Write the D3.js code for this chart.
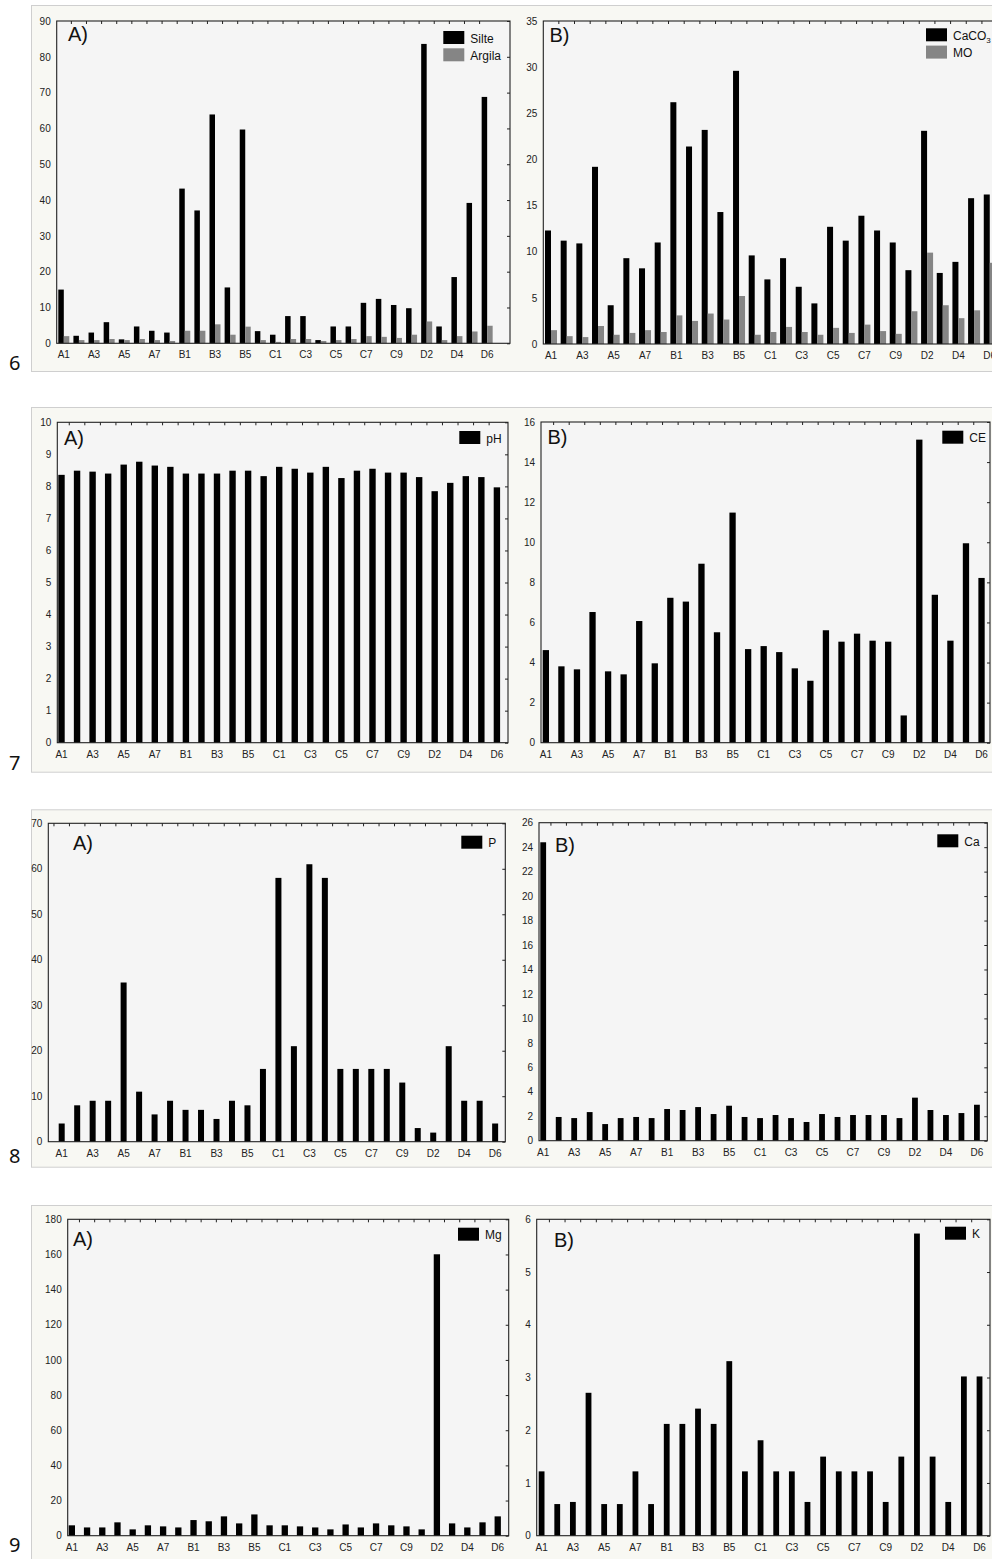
<!DOCTYPE html>
<html><head><meta charset="utf-8">
<script src="https://cdn.jsdelivr.net/npm/d3@7"></script>
<style>body{margin:0;background:#fff;} svg{display:block;}</style>
</head><body>
<svg id="chart" width="992" height="1559"></svg>
<script>
// ---------------- DATA ----------------
const categories = ["A1","A2","A3","A4","A5","A6","A7","A8",
  "B1","B2","B3","B4","B5","B6",
  "C1","C2","C3","C4","C5","C6","C7","C8","C9",
  "D1","D2","D3","D4","D5","D6"];
const xTickLabels = ["A1","A3","A5","A7","B1","B3","B5","C1","C3","C5","C7","C9","D2","D4","D6"];

const silte  = [15.0, 2.1, 3.0, 5.9, 1.1, 4.7, 3.5, 3.0, 43.2, 37.1, 63.9, 15.6, 59.7, 3.4, 2.4, 7.6, 7.6, 0.9, 4.7, 4.7, 11.3, 12.4, 10.7, 9.8, 83.6, 4.7, 18.5, 39.2, 68.8];
const argila = [2.0, 0.9, 0.9, 1.2, 0.9, 1.2, 0.9, 0.65, 3.5, 3.5, 5.3, 2.4, 4.65, 0.9, 0.4, 1.2, 1.2, 0.65, 0.9, 1.2, 2.0, 1.8, 1.5, 2.4, 6.1, 0.9, 2.0, 3.3, 4.9];
const caco3  = [12.3, 11.2, 10.9, 19.2, 4.2, 9.3, 8.2, 11.0, 26.2, 21.4, 23.2, 14.3, 29.6, 9.6, 7.0, 9.3, 6.2, 4.4, 12.7, 11.2, 13.9, 12.3, 11.0, 8.0, 23.1, 7.7, 8.9, 15.8, 16.2];
const mo     = [1.5, 0.85, 0.75, 1.95, 1.0, 1.2, 1.5, 1.3, 3.1, 2.5, 3.3, 2.65, 5.2, 1.0, 1.3, 1.85, 1.3, 1.0, 1.75, 1.2, 2.1, 1.4, 1.1, 3.55, 9.9, 4.2, 2.8, 3.65, 8.8];
const ph     = [8.36, 8.49, 8.46, 8.40, 8.68, 8.77, 8.65, 8.61, 8.40, 8.40, 8.40, 8.49, 8.49, 8.32, 8.61, 8.55, 8.43, 8.61, 8.26, 8.49, 8.55, 8.43, 8.43, 8.29, 7.85, 8.11, 8.32, 8.29, 7.97];
const ce     = [4.62, 3.81, 3.66, 6.52, 3.56, 3.41, 6.07, 3.96, 7.23, 7.04, 8.93, 5.51, 11.48, 4.67, 4.82, 4.52, 3.71, 3.09, 5.61, 5.04, 5.44, 5.09, 5.04, 1.36, 15.12, 7.38, 5.09, 9.95, 8.22];
const pVals  = [4, 8, 9, 9, 35, 11, 6, 9, 7, 7, 5, 9, 8, 16, 58, 21, 61, 58, 16, 16, 16, 16, 13, 3, 2, 21, 9, 9, 4];
const caVals = [24.4, 1.94, 1.85, 2.34, 1.36, 1.85, 1.94, 1.85, 2.59, 2.51, 2.75, 2.18, 2.86, 1.94, 1.85, 2.10, 1.85, 1.53, 2.18, 1.94, 2.10, 2.10, 2.10, 1.85, 3.52, 2.51, 2.10, 2.26, 2.94];
const mgVals = [5.9, 4.7, 4.7, 7.6, 3.6, 5.9, 5.3, 4.7, 8.9, 8.2, 11.0, 7.0, 12.1, 5.9, 5.9, 5.3, 4.7, 3.6, 6.4, 4.7, 7.0, 5.9, 5.3, 3.6, 160.1, 7.0, 4.7, 7.6, 11.0];
const kVals  = [1.22, 0.60, 0.64, 2.71, 0.60, 0.60, 1.22, 0.60, 2.12, 2.12, 2.41, 2.12, 3.31, 1.22, 1.81, 1.22, 1.22, 0.64, 1.50, 1.22, 1.22, 1.22, 0.64, 1.50, 5.73, 1.50, 0.64, 3.02, 3.02];

const ticks6A = [0,10,20,30,40,50,60,70,80,90];
const ticks6B = [0,5,10,15,20,25,30,35];
const ticks7A = [0,1,2,3,4,5,6,7,8,9,10];
const ticks7B = [0,2,4,6,8,10,12,14,16];
const ticks8A = [0,10,20,30,40,50,60,70];
const ticks8B = [0,2,4,6,8,10,12,14,16,18,20,22,24,26];
const ticks9A = [0,20,40,60,80,100,120,140,160,180];
const ticks9B = [0,1,2,3,4,5,6];

const rowLabels = ["6","7","8","9"];

// ---------------- LAYOUT ----------------
const BLACK = "#000000", GREY = "#858585";
const FONT = "'Liberation Sans', Arial, sans-serif";
const svg = d3.select("#chart");

const rows = [
  {top: 5,     bottom: 371,   labelY: 370},
  {top: 407,   bottom: 771.7, labelY: 770},
  {top: 809.3, bottom: 1166.7,labelY: 1163},
  {top: 1205,  bottom: 1600,  labelY: 1552}
];

rows.forEach((r, i) => {
  svg.append("rect").attr("x", 31.5).attr("y", r.top + 0.5)
    .attr("width", 1000).attr("height", r.bottom - r.top)
    .attr("fill", "#f8f8f3").attr("stroke", "#cfcfcf").attr("stroke-width", 1);
  svg.append("text").attr("x", 9).attr("y", r.labelY)
    .attr("font-family", "'Noto Sans', 'Open Sans', sans-serif").attr("font-size", 20)
    .attr("fill", "#111").text(rowLabels[i]);
});

const panels = [
  {l:56.7, t:21, r:510, b:343.3, yMax:90, ticks:ticks6A, x0:58.3, step:15.12, gw:11,
   series:[{v:silte, c:BLACK, name:"Silte"},{v:argila, c:GREY, name:"Argila"}],
   letter:"A)", lx:68, ly:40.7, legX:443.3, legY:31},
  {l:543.3, t:21, r:1000, b:344, yMax:35, ticks:ticks6B, x0:545, step:15.67, gw:12,
   series:[{v:caco3, c:BLACK, name:"CaCO", sub:"3"},{v:mo, c:GREY, name:"MO"}],
   letter:"B)", lx:549.5, ly:41.7, legX:926, legY:28.3},
  {l:57.3, t:422.3, r:508, b:742.7, yMax:10, ticks:ticks7A, x0:58.3, step:15.55, gw:6.4,
   series:[{v:ph, c:BLACK, name:"pH"}],
   letter:"A)", lx:64, ly:445, legX:459.3, legY:431},
  {l:541, t:422, r:990, b:742.7, yMax:16, ticks:ticks7B, x0:542.7, step:15.56, gw:6.3,
   series:[{v:ce, c:BLACK, name:"CE"}],
   letter:"B)", lx:547.5, ly:444.3, legX:942.3, legY:430.7},
  {l:48.3, t:823.3, r:505.3, b:1141.7, yMax:70, ticks:ticks8A, x0:58.7, step:15.48, gw:6,
   series:[{v:pVals, c:BLACK, name:"P"}],
   letter:"A)", lx:73, ly:850, legX:461.3, legY:835.7},
  {l:539, t:822.7, r:987.3, b:1140.7, yMax:26, ticks:ticks8B, x0:540.3, step:15.49, gw:5.8,
   series:[{v:caVals, c:BLACK, name:"Ca"}],
   letter:"B)", lx:555, ly:851.5, legX:937.3, legY:834.3},
  {l:67.7, t:1219.3, r:508.7, b:1535.7, yMax:180, ticks:ticks9A, x0:68.7, step:15.21, gw:6.3,
   series:[{v:mgVals, c:BLACK, name:"Mg"}],
   letter:"A)", lx:73, ly:1245.5, legX:458, legY:1227.7},
  {l:536.7, t:1219.3, r:990, b:1535.7, yMax:6, ticks:ticks9B, x0:538.7, step:15.64, gw:5.8,
   series:[{v:kVals, c:BLACK, name:"K"}],
   letter:"B)", lx:554, ly:1246.5, legX:945, legY:1226.7}
];

panels.forEach(p => {
  const g = svg.append("g");
  g.append("rect").attr("x", p.l).attr("y", p.t).attr("width", p.r - p.l).attr("height", p.b - p.t)
    .attr("fill", "#f5f5f5");

  const n = categories.length;
  const pInner = 1 - p.gw / p.step;
  const x = d3.scaleBand().domain(categories)
    .range([p.x0, p.x0 + p.step * (n - pInner)])
    .paddingInner(pInner).paddingOuter(0).align(0);
  const y = d3.scaleLinear().domain([0, p.yMax]).range([p.b, p.t]);
  const sub = d3.scaleBand().domain(d3.range(p.series.length)).range([0, x.bandwidth()]).padding(0);

  p.series.forEach((s, si) => {
    g.append("g").selectAll("rect").data(categories).join("rect")
      .attr("x", d => x(d) + sub(si))
      .attr("y", (d, i) => y(s.v[i]))
      .attr("width", sub.bandwidth())
      .attr("height", (d, i) => p.b - y(s.v[i]))
      .attr("fill", s.c);
  });

  g.append("rect").attr("x", p.l).attr("y", p.t).attr("width", p.r - p.l).attr("height", p.b - p.t)
    .attr("fill", "none").attr("stroke", "#222").attr("stroke-width", 1.1);

  const yAxis = d3.axisLeft(y).tickValues(p.ticks).tickSize(0).tickPadding(6).tickFormat(d3.format("d"));
  const ya = g.append("g").attr("transform", `translate(${p.l},0)`).call(yAxis);
  ya.select(".domain").remove();
  ya.selectAll("text").attr("font-family", FONT).attr("font-size", 10).attr("fill", "#222");

  const yr = d3.axisLeft(y).tickValues(p.ticks).tickSize(3).tickFormat("");
  const yra = g.append("g").attr("transform", `translate(${p.r},0)`).call(yr);
  yra.select(".domain").remove();
  yra.selectAll("line").attr("stroke", "#222");

  const topTicks = categories.map(c => x(c) - (p.step - p.gw) / 2).filter(v => v > p.l + 1 && v < p.r - 1);
  g.append("g").selectAll("line").data(topTicks).join("line")
    .attr("x1", d => d).attr("x2", d => d).attr("y1", p.t).attr("y2", p.t + 3)
    .attr("stroke", "#222").attr("stroke-width", 1);

  const xAxis = d3.axisBottom(x).tickValues(xTickLabels).tickSize(0).tickPadding(8);
  const xa = g.append("g").attr("transform", `translate(0,${p.b})`).call(xAxis);
  xa.select(".domain").remove();
  xa.selectAll("text").attr("font-family", FONT).attr("font-size", 10).attr("fill", "#222");

  g.append("text").attr("x", p.lx).attr("y", p.ly).attr("font-family", FONT)
    .attr("font-size", 20).attr("fill", "#111").text(p.letter);

  p.series.forEach((s, si) => {
    const yy = p.legY + si * 17.3;
    g.append("rect").attr("x", p.legX).attr("y", yy).attr("width", 21).attr("height", 13).attr("fill", s.c);
    const t = g.append("text").attr("x", p.legX + 27).attr("y", yy + 11.5)
      .attr("font-family", FONT).attr("font-size", 12).attr("fill", "#111").text(s.name);
    if (s.sub) t.append("tspan").attr("font-size", 8).attr("dy", 3).text(s.sub);
  });
});
</script>
</body></html>
